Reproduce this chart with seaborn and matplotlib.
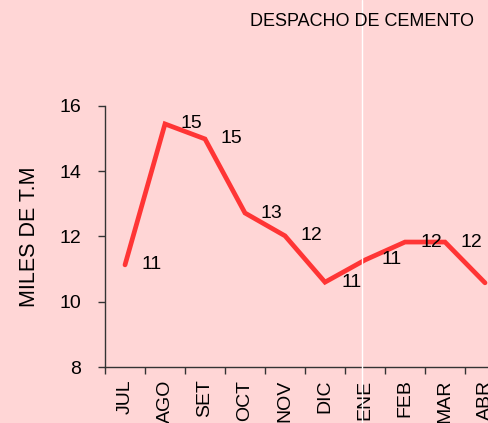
import matplotlib.pyplot as plt
import numpy as np
import pandas as pd
import seaborn as sns
from matplotlib.lines import Line2D
from matplotlib.ticker import FixedLocator

months = ["JUL", "AGO", "SET", "OCT", "NOV", "DIC", "ENE", "FEB", "MAR", "ABR"]
values = [11.13, 15.45, 14.99, 12.72, 12.02, 10.6, 11.28, 11.83, 11.83, 10.58]
yticks = [8, 10, 12, 14, 16]

bg = "#ffd6d6"
sns.set_style("ticks")
plt.rcParams["font.family"] = ["Liberation Sans", "DejaVu Sans"]
plt.rcParams["text.color"] = "black"
plt.rcParams["xtick.labelcolor"] = "black"
plt.rcParams["ytick.labelcolor"] = "black"
plt.rcParams["axes.labelcolor"] = "black"

df = pd.DataFrame({"pos": np.arange(len(months)), "mes": months, "valor": values})

fig = plt.figure(figsize=(4.88, 4.23), dpi=100, facecolor=bg)
ax = fig.add_axes([105 / 488, 56 / 423, 400 / 488, 261 / 423])
ax.set_facecolor(bg)

sns.lineplot(data=df, x="pos", y="valor", ax=ax, color="#ff3535", linewidth=3.4,
             solid_joinstyle="miter", legend=False)

for x, v in zip(df["pos"], df["valor"]):
    ax.annotate(f"{v:.0f}", (x, v), xytext=(19, 0), textcoords="offset points",
                ha="center", va="center", fontsize=14, color="black",
                annotation_clip=False)

ax.set_xlim(-0.5, len(months) - 0.5)
ax.set_ylim(8, 16)
ax.set_yticks(yticks)
ax.set_xticks(df["pos"])
ax.set_xticklabels(months, rotation=90, va="top", ha="center")
ax.xaxis.set_minor_locator(FixedLocator(np.arange(len(months) + 1) - 0.5))
ax.tick_params(axis="x", which="major", length=0, pad=9, labelsize=14)
ax.tick_params(axis="x", which="minor", length=5, width=1, color="#333333")
ax.tick_params(axis="y", length=5, width=1, color="#333333", pad=12, labelsize=14)

for side in ["top", "right"]:
    ax.spines[side].set_visible(False)
for side in ["left", "bottom"]:
    ax.spines[side].set_color("#333333")
    ax.spines[side].set_linewidth(1)

ax.set_xlabel("")
ax.set_ylabel("MILES DE T.M", fontsize=15.5, labelpad=14)
fig.text(362 / 488, 1 - 22 / 423, "DESPACHO DE CEMENTO", ha="center", va="center",
         fontsize=13)
fig.add_artist(Line2D([362 / 488, 362 / 488], [0, 1], color="white", linewidth=1))

fig.savefig("out.png", dpi=100, facecolor=bg)
